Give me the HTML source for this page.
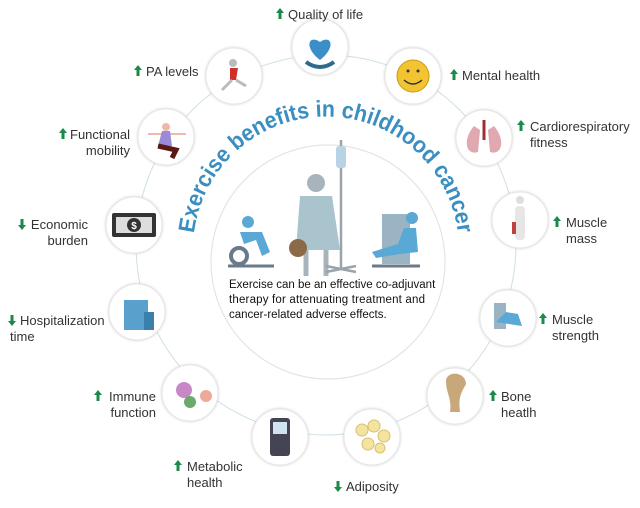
<!DOCTYPE html>
<html><head><style>
body{margin:0;background:#fff}
svg text{font-family:"Liberation Sans",sans-serif}
.l{font-size:13px;fill:#333}
</style></head><body>
<svg width="640" height="503" viewBox="0 0 640 503" xmlns="http://www.w3.org/2000/svg">
<defs>
<g id="up"><path d="M0,-6 L4,-1 L1.5,-1 L1.5,5 L-1.5,5 L-1.5,-1 L-4,-1 Z" fill="#1a8a4a"/></g>
<g id="dn"><path d="M0,6 L4,1 L1.5,1 L1.5,-5 L-1.5,-5 L-1.5,1 L-4,1 Z" fill="#1a8a4a"/></g>
<filter id="sh" x="-20%" y="-20%" width="140%" height="140%"><feDropShadow dx="0" dy="0" stdDeviation="1.2" flood-color="#999" flood-opacity="0.5"/></filter>
<path id="arc" d="M201,295 A133,133 0 1 1 451,295"/>
</defs>
<circle cx="326" cy="245" r="190" fill="none" stroke="#cfdfe6" stroke-width="1"/>
<circle cx="328" cy="262" r="117" fill="#fff" stroke="#e4e4e4" stroke-width="1.2"/>
<text font-size="23" fill="#3a8fc0" font-weight="bold"><textPath href="#arc" startOffset="50%" text-anchor="middle" textLength="385" lengthAdjust="spacingAndGlyphs">Exercise benefits in childhood cancer</textPath></text>
<!-- center illustrations -->
<g fill="#5aa8d6">
<circle cx="248" cy="222" r="6"/><path d="M240,232 L262,232 L270,252 L262,256 L256,240 L244,244 Z"/>
<circle cx="239" cy="256" r="8" fill="none" stroke="#6a7a8a" stroke-width="4"/>
<path d="M228,266 L274,266" stroke="#6a7a8a" stroke-width="3"/>
</g>
<g>
<circle cx="316" cy="183" r="9" fill="#a8b4bc"/>
<path d="M300,196 L332,196 L340,250 L296,250 Z" fill="#a9c4cc"/>
<path d="M306,250 L306,276 M326,250 L326,276" stroke="#a8b4bc" stroke-width="5"/>
<circle cx="298" cy="248" r="9" fill="#8b6a4a"/>
<path d="M341,140 L341,270 M326,272 L356,266 M326,266 L356,272" stroke="#9aa4aa" stroke-width="2.5"/>
<rect x="336" y="146" width="10" height="22" rx="3" fill="#b8d4e4"/>
</g>
<g fill="#5aa8d6">
<rect x="382" y="214" width="28" height="50" fill="#9ab4c4"/>
<circle cx="412" cy="218" r="6"/>
<path d="M404,228 L416,228 L418,252 L400,254 L376,258 L372,252 L398,244 Z"/>
<path d="M372,266 L420,266" stroke="#6a7a8a" stroke-width="3"/>
</g>
<text font-size="11.5" fill="#111"><tspan x="229" y="288">Exercise can be an effective co-adjuvant</tspan><tspan x="229" y="303" textLength="196" lengthAdjust="spacing">therapy for attenuating treatment and</tspan><tspan x="229" y="318">cancer-related adverse effects.</tspan></text>
<!-- nodes -->
<g fill="#fff" stroke="#e6e6e6" filter="url(#sh)">
<circle cx="320" cy="47" r="28"/><circle cx="234" cy="76" r="28"/><circle cx="413" cy="76" r="28"/>
<circle cx="166" cy="137" r="28"/><circle cx="484" cy="138" r="28"/><circle cx="134" cy="225" r="28"/>
<circle cx="520" cy="220" r="28"/><circle cx="137" cy="312" r="28"/><circle cx="508" cy="318" r="28"/>
<circle cx="190" cy="393" r="28"/><circle cx="455" cy="396" r="28"/><circle cx="280" cy="437" r="28"/>
<circle cx="372" cy="437" r="28"/>
</g>
<!-- icons -->
<path d="M320,60 C304,48 308,34 320,42 C332,34 336,48 320,60 Z" fill="#3a8fc8"/>
<path d="M306,62 Q320,72 334,62" stroke="#2c6a8e" stroke-width="4" fill="none"/>
<circle cx="413" cy="76" r="16" fill="#f3c431" stroke="#c99b10"/>
<path d="M404,80 Q413,88 422,80" stroke="#333" stroke-width="1.5" fill="none"/>
<circle cx="408" cy="71" r="1.5" fill="#333"/><circle cx="418" cy="71" r="1.5" fill="#333"/>
<circle cx="233" cy="63" r="4" fill="#bbb"/><path d="M230,68 L238,68 L236,80 L230,80 Z" fill="#d0302a"/>
<path d="M232,80 L222,90 M236,80 L246,86" stroke="#bbb" stroke-width="3"/>
<circle cx="166" cy="127" r="4" fill="#f0b8a8"/><path d="M148,134 L186,134" stroke="#f0b8a8" stroke-width="2"/>
<path d="M162,131 L170,131 L172,146 L158,146 Z" fill="#9a8ad8"/><path d="M158,146 L176,150 L172,158" stroke="#5a1a14" stroke-width="5" fill="none"/>
<rect x="112" y="213" width="44" height="24" rx="2" fill="#333"/><rect x="116" y="217" width="36" height="16" fill="#ddd"/><circle cx="134" cy="225" r="7" fill="#333"/>
<text x="134" y="229" font-size="10" fill="#fff" text-anchor="middle" font-weight="bold">$</text>
<rect x="124" y="300" width="24" height="30" fill="#5aa0cc"/><rect x="144" y="312" width="10" height="18" fill="#3a80aa"/>
<circle cx="520" cy="200" r="4" fill="#ddd"/><rect x="515" y="206" width="10" height="34" rx="4" fill="#e6e6e6"/><rect x="512" y="222" width="4" height="12" fill="#c04040"/>
<path d="M474,126 C462,140 466,156 478,152 L480,130 Z M494,126 C506,140 502,156 490,152 L488,130 Z" fill="#e0a8b0"/><path d="M484,120 L484,140" stroke="#a03030" stroke-width="3"/>
<rect x="494" y="303" width="12" height="26" fill="#9ab4c4"/><path d="M506,312 L518,314 L522,326 L496,322" fill="#5aa8d6"/>
<path d="M446,380 C448,370 466,372 466,384 C462,392 458,396 460,412 L450,412 C452,398 446,394 446,380 Z" fill="#c8a87a"/>
<g fill="#f4e4a0" stroke="#d8c070"><circle cx="362" cy="430" r="6"/><circle cx="374" cy="426" r="6"/><circle cx="384" cy="436" r="6"/><circle cx="368" cy="444" r="6"/><circle cx="380" cy="448" r="5"/></g>
<rect x="270" y="418" width="20" height="38" rx="3" fill="#445"/><rect x="273" y="422" width="14" height="12" fill="#cfe4f0"/>
<circle cx="184" cy="390" r="8" fill="#c888c8"/><circle cx="190" cy="402" r="6" fill="#6aaa6a"/><circle cx="206" cy="396" r="6" fill="#f0a898"/>
<!-- labels -->
<use href="#up" x="280" y="14"/><text class="l" x="288" y="19">Quality of life</text>
<use href="#up" x="138" y="71"/><text class="l" x="146" y="76">PA levels</text>
<use href="#up" x="454" y="75"/><text class="l" x="462" y="80">Mental health</text>
<use href="#up" x="63" y="134"/><text class="l" x="130" y="139" text-anchor="end">Functional</text><text class="l" x="130" y="155" text-anchor="end">mobility</text>
<use href="#up" x="521" y="126"/><text class="l" x="530" y="131">Cardiorespiratory</text><text class="l" x="530" y="147">fitness</text>
<use href="#dn" x="22" y="224"/><text class="l" x="88" y="229" text-anchor="end">Economic</text><text class="l" x="88" y="245" text-anchor="end">burden</text>
<use href="#up" x="557" y="222"/><text class="l" x="566" y="227">Muscle</text><text class="l" x="566" y="243">mass</text>
<use href="#dn" x="12" y="320"/><text class="l" x="20" y="325">Hospitalization</text><text class="l" x="10" y="341">time</text>
<use href="#up" x="543" y="319"/><text class="l" x="552" y="324">Muscle</text><text class="l" x="552" y="340">strength</text>
<use href="#up" x="98" y="396"/><text class="l" x="156" y="401" text-anchor="end">Immune</text><text class="l" x="156" y="417" text-anchor="end">function</text>
<use href="#up" x="493" y="396"/><text class="l" x="501" y="401">Bone</text><text class="l" x="501" y="417">heatlh</text>
<use href="#up" x="178" y="466"/><text class="l" x="187" y="471">Metabolic</text><text class="l" x="187" y="487">health</text>
<use href="#dn" x="338" y="486"/><text class="l" x="346" y="491">Adiposity</text>
</svg>
</body></html>
